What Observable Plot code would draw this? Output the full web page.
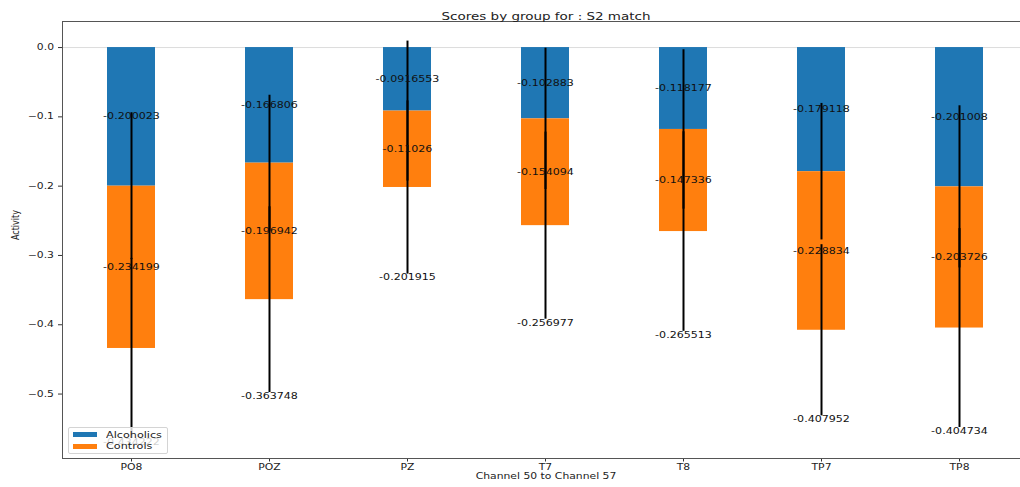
<!DOCTYPE html>
<html>
<head>
<meta charset="utf-8">
<script src="https://cdn.jsdelivr.net/npm/d3@7"></script>
<script src="https://cdn.jsdelivr.net/npm/@observablehq/plot@0.6"></script>
<style>
  body { margin: 0; background: #fff; }
  #chart { position: relative; width: 1020px; height: 487px; overflow: hidden; font-family: "DejaVu Sans", sans-serif; }
  .legend { position: absolute; left: 67.5px; top: 427px; width: 100px; height: 26.5px; box-sizing: border-box;
            border: 1px solid #d4d4d4; border-radius: 2px; background: rgba(255,255,255,0.8); }
  .legend .sw { position: absolute; left: 4px; width: 24px; height: 5px; }
  .legend .lb { position: absolute; left: 37px; font-size: 8.3px; line-height: 10px; color: #222;
                transform: scaleX(1.35); transform-origin: left center; white-space: nowrap; }
</style>
</head>
<body>
<div id="chart"></div>
<script>
// Channels and mean activity per group
const channels = ["PO8", "POZ", "PZ", "T7", "T8", "TP7", "TP8"];
const alcoholics = [-0.200023, -0.166806, -0.0916553, -0.102883, -0.118177, -0.179118, -0.201008];
const controls = [-0.234199, -0.196942, -0.11026, -0.154094, -0.147336, -0.228834, -0.203726];
// Spread (error bar half-lengths) per group
const alcoholicsErr = [0.106, 0.098, 0.101, 0.102, 0.115, 0.0985, 0.117];
const controlsErr = [0.130, 0.134, 0.125, 0.135, 0.144, 0.1235, 0.1435];
const groups = ["Alcoholics", "Controls"];
const colors = ["#1f77b4", "#ff7f0e"];
const yTicks = [0, -0.1, -0.2, -0.3, -0.4, -0.5];

const titleText = "Scores by group for : S2 match";
const xLabel = "Channel 50 to Channel 57";
const yLabel = "Activity";

// "%g"-style labels with a plain hyphen
const fmt = d3.formatLocale({decimal: ".", thousands: ",", grouping: [3], currency: ["$", ""], minus: "-"}).format(".6~g");

// Stacked segments: Alcoholics from 0, Controls stacked below
const rows = [];
channels.forEach((ch, i) => {
  const a = alcoholics[i], c = controls[i];
  rows.push({channel: ch, group: groups[0], y1: 0, y2: a, value: a, end: a, err: alcoholicsErr[i]});
  rows.push({channel: ch, group: groups[1], y1: a, y2: a + c, value: c, end: a + c, err: controlsErr[i]});
});
const controlRows = rows.filter(d => d.group === groups[1]);

const fs = 8.2;
const chart = Plot.plot({
  width: 1020,
  height: 487,
  marginLeft: 62,
  marginRight: -9,
  marginTop: 21,
  marginBottom: 29,
  style: {fontFamily: "DejaVu Sans, sans-serif", fontSize: "8px", color: "#222", background: "white"},
  x: {domain: channels, paddingInner: 0.65, paddingOuter: 0.3175},
  y: {domain: [-0.593, 0.0376]},
  color: {domain: groups, range: colors},
  marks: [
    Plot.ruleY([0], {stroke: "#dcdcdc", strokeWidth: 1}),
    Plot.barY(rows, {x: "channel", y1: "y1", y2: "y2", fill: "group"}),
    Plot.ruleX(rows, {x: "channel", y1: d => d.end - d.err, y2: d => d.end + d.err, stroke: "#000", strokeWidth: 2}),
    Plot.text(rows, {x: "channel", y: d => (d.y1 + d.y2) / 2, text: d => fmt(d.value), fontSize: fs, fill: "#111"}),
    Plot.text(controlRows, {x: "channel", y: d => d.end - d.err, text: d => fmt(d.end), lineAnchor: "top", dy: 0.5, fontSize: fs, fill: "#111"}),
    Plot.axisY({ticks: yTicks, tickFormat: d3.format(".1f"), tickSize: 4, tickPadding: 4.5, fontSize: 8, label: null, stroke: "#333"}),
    Plot.axisX({tickSize: 3.5, tickPadding: 2.2, fontSize: 8, label: null, stroke: "#333"}),
    Plot.frame({stroke: "#555", strokeWidth: 1}),
    Plot.text([titleText], {frameAnchor: "top", dy: -8.6, fontSize: 10, fill: "#222"}),
    Plot.text([xLabel], {frameAnchor: "bottom", dy: 20.3, fontSize: 8, fill: "#222"}),
    Plot.text([yLabel], {frameAnchor: "left", dx: -47, rotate: -90, fontSize: 8, fill: "#222"})
  ]
});

// Widen glyphs horizontally around each label's anchor
const sx = 1.35;
chart.querySelectorAll("text").forEach(t => {
  const x = +t.getAttribute("x") || 0, y = +t.getAttribute("y") || 0;
  const tr = t.getAttribute("transform") || "";
  const sc = /rotate\(-90\)/.test(tr) ? `scale(1,${sx})` : `scale(${sx},1)`;
  t.setAttribute("transform", `${tr} translate(${x},${y}) ${sc} translate(${-x},${-y})`);
});

const root = document.getElementById("chart");
root.appendChild(chart);

// Legend in the lower-left corner of the plot area
const legend = document.createElement("div");
legend.className = "legend";
groups.forEach((g, i) => {
  const sw = document.createElement("div");
  sw.className = "sw";
  sw.style.top = (i === 0 ? 4.4 : 16) + "px";
  sw.style.background = colors[i];
  const lb = document.createElement("div");
  lb.className = "lb";
  lb.style.top = (i === 0 ? 2 : 13.4) + "px";
  lb.textContent = g;
  legend.appendChild(sw);
  legend.appendChild(lb);
});
root.appendChild(legend);
</script>
</body>
</html>
